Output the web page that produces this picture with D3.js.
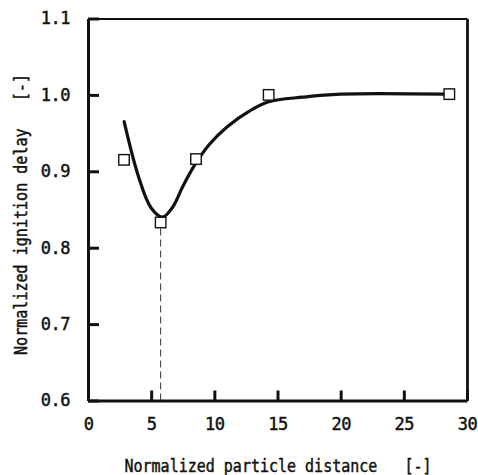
<!DOCTYPE html>
<html>
<head>
<meta charset="utf-8">
<script src="https://cdn.jsdelivr.net/npm/d3@7"></script>
<style>
  html, body { margin: 0; padding: 0; background: #fff; }
  svg text { font-family: "DejaVu Sans Mono", "Liberation Mono", monospace; fill: #111; stroke: #111; stroke-width: 0.45px; }
</style>
</head>
<body>
<svg id="chart" width="478" height="475"></svg>
<script>
// measured points (open squares)
var pointX = [2.85, 5.75, 8.55, 14.3, 28.6];
var pointY = [0.915, 0.833, 0.916, 1.0, 1.001];

// hand drawn fitted curve
var curveX = [2.86, 4.0, 5.0, 5.9, 6.7, 7.5, 8.4, 9.6, 11.0, 12.9, 14.3, 17.0, 20.0, 28.2];
var curveY = [0.965, 0.893, 0.852, 0.840, 0.853, 0.880, 0.907, 0.935, 0.958, 0.980, 0.991, 0.997, 1.001, 1.001];

// x of the minimum, marked with a dashed line
var minX = 5.75;

var xTicks = [0, 5, 10, 15, 20, 25, 30];
var yTicks = [0.6, 0.7, 0.8, 0.9, 1.0, 1.1];

var xTitle = "Normalized particle distance   [-]";
var yTitle = "Normalized ignition delay   [-]";

var svg = d3.select("#chart");
var margin = { left: 88, right: 11, top: 18.5, bottom: 74.5 };
var width = 478 - margin.left - margin.right,
    height = 475 - margin.top - margin.bottom;

var x = d3.scaleLinear().domain([0, 30]).range([0, width]);
var y = d3.scaleLinear().domain([0.6, 1.1]).range([height, 0]);

var g = svg.append("g").attr("transform", "translate(" + margin.left + "," + margin.top + ")");

// frame: top and right edges without ticks
g.append("g")
    .call(d3.axisTop(x).tickValues([]).tickSizeOuter(0))
    .select(".domain").attr("stroke", "#111").attr("stroke-width", 2.2);
g.append("g")
    .attr("transform", "translate(" + width + ",0)")
    .call(d3.axisRight(y).tickValues([]).tickSizeOuter(0))
    .select(".domain").attr("stroke", "#111").attr("stroke-width", 2.8);

var xAxis = g.append("g")
    .attr("transform", "translate(0," + height + ")")
    .call(d3.axisBottom(x).tickValues(xTicks).tickFormat(d3.format("d"))
        .tickSizeInner(-10).tickSizeOuter(0).tickPadding(17.5));

var yAxis = g.append("g")
    .call(d3.axisLeft(y).tickValues(yTicks).tickFormat(d3.format(".1f"))
        .tickSizeInner(-11).tickSizeOuter(0).tickPadding(18));

[xAxis, yAxis].forEach(function (ax) {
    ax.select(".domain").attr("stroke", "#111").attr("stroke-width", 3);
    ax.selectAll(".tick line").attr("stroke", "#111").attr("stroke-width", 3);
    ax.selectAll(".tick text")
        .attr("fill", "#111")
        .style("font-family", "DejaVu Sans Mono, monospace")
        .style("font-size", "17px")
        .style("letter-spacing", "-0.5px");
});

// dashed marker at the minimum
g.append("line")
    .attr("x1", x(minX)).attr("x2", x(minX))
    .attr("y1", y(d3.min(pointY)) + 6).attr("y2", y(0.6))
    .attr("stroke", "#333")
    .attr("stroke-width", 1)
    .attr("stroke-dasharray", "7,4");

var line = d3.line()
    .x(function (d) { return x(d[0]); })
    .y(function (d) { return y(d[1]); })
    .curve(d3.curveCatmullRom.alpha(0.5));

g.append("path")
    .datum(d3.zip(curveX, curveY))
    .attr("fill", "none")
    .attr("stroke", "#111")
    .attr("stroke-width", 3.2)
    .attr("stroke-linecap", "round")
    .attr("d", line);

var sq = 10.5;
g.selectAll("rect.pt")
    .data(d3.zip(pointX, pointY))
    .enter().append("rect")
    .attr("class", "pt")
    .attr("x", function (d) { return x(d[0]) - sq / 2; })
    .attr("y", function (d) { return y(d[1]) - sq / 2; })
    .attr("width", sq)
    .attr("height", sq)
    .attr("fill", "#fff")
    .attr("stroke", "#111")
    .attr("stroke-width", 1.4);

// axis titles
svg.append("text")
    .attr("x", 124.5)
    .attr("y", 472)
    .attr("textLength", 307)
    .attr("lengthAdjust", "spacingAndGlyphs")
    .style("white-space", "pre")
    .style("font-size", "17px")
    .text(xTitle);

svg.append("text")
    .attr("transform", "translate(27,355) rotate(-90)")
    .attr("textLength", 281)
    .attr("lengthAdjust", "spacingAndGlyphs")
    .style("white-space", "pre")
    .style("font-size", "17px")
    .text(yTitle);
</script>
</body>
</html>
